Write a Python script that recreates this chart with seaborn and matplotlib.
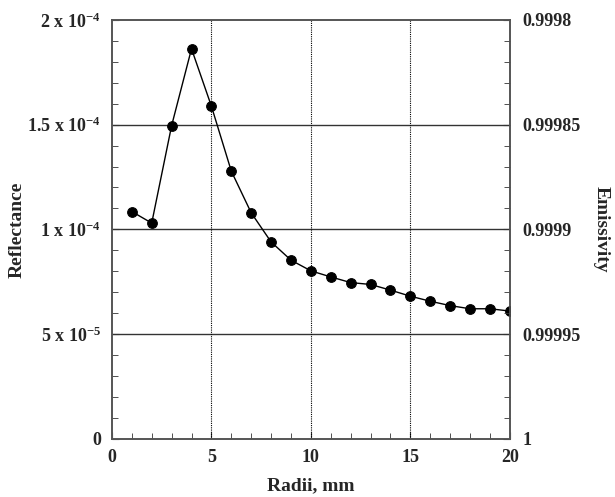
import numpy as np
import pandas as pd
import matplotlib
matplotlib.use('Agg')
import matplotlib.pyplot as plt
import seaborn as sns
from matplotlib.ticker import MultipleLocator, FixedLocator

radii = [1, 2, 3, 4, 5, 6, 7, 8, 9, 10, 11, 12, 13, 14, 15, 16, 17, 18, 19, 20]
reflectance = [1.085e-4, 1.030e-4, 1.495e-4, 1.862e-4, 1.588e-4, 1.278e-4, 1.079e-4,
               0.940e-4, 0.853e-4, 0.802e-4, 0.773e-4, 0.746e-4, 0.737e-4, 0.710e-4,
               0.681e-4, 0.657e-4, 0.636e-4, 0.621e-4, 0.621e-4, 0.610e-4]
left_ticks = [0, 5e-5, 1e-4, 1.5e-4, 2e-4]
left_labels = ['0', '5 x 10$^{-5}$', '1 x 10$^{-4}$', '1.5 x 10$^{-4}$', '2 x 10$^{-4}$']
right_ticks = [1.0, 0.99995, 0.9999, 0.99985, 0.9998]
right_labels = ['1', '0.99995', '0.9999', '0.99985', '0.9998']

df = pd.DataFrame({'Radii': radii, 'Reflectance': reflectance})

sns.set_style('ticks')
plt.rcParams['font.family'] = ['Liberation Serif', 'DejaVu Serif']
plt.rcParams['font.weight'] = 'bold'
plt.rcParams['mathtext.fontset'] = 'custom'
plt.rcParams['mathtext.rm'] = 'Liberation Serif:bold'
plt.rcParams['mathtext.it'] = 'Liberation Serif:bold'
plt.rcParams['mathtext.bf'] = 'Liberation Serif:bold'

fig = plt.figure(figsize=(6.15, 4.97), dpi=100)
ax = fig.add_axes([0.182, 0.117, 0.647, 0.843])

for y in left_ticks[1:-1]:
    ax.axhline(y, color='#333333', lw=1.0, zorder=1)
for x in [5, 10, 15]:
    ax.axvline(x, color='black', lw=0.8, ls=(0, (1, 1)), zorder=1)

sns.lineplot(data=df, x='Radii', y='Reflectance', ax=ax, color='black', lw=1,
             marker='o', markersize=7, markeredgecolor='black', zorder=3)

ax.set_xlim(0, 20)
ax.set_ylim(0, 2e-4)
ax.xaxis.set_major_locator(MultipleLocator(5))
ax.xaxis.set_minor_locator(MultipleLocator(1))
ax.yaxis.set_major_locator(FixedLocator(left_ticks))
ax.yaxis.set_minor_locator(MultipleLocator(1e-5))
ax.set_yticklabels(left_labels)
ax.tick_params(axis='both', which='both', direction='in', color='#333333', labelsize=13)
ax.tick_params(axis='y', pad=8)
ax.tick_params(axis='x', pad=7)
ax.tick_params(which='major', length=5)
ax.tick_params(which='minor', length=4)
ax.set_xlabel('Radii, mm', fontsize=14, fontweight='bold')
ax.set_ylabel('Reflectance', fontsize=14, fontweight='bold')
ax.xaxis.set_label_coords(0.5, -0.092)
ax.yaxis.set_label_coords(-0.218, 0.5)
for lab in ax.get_xticklabels() + ax.get_yticklabels():
    lab.set_fontweight('bold')

ax2 = ax.twinx()
ax2.set_ylim(1.0, 0.9998)
ax2.yaxis.set_major_locator(FixedLocator(right_ticks))
ax2.yaxis.set_minor_locator(MultipleLocator(1e-5))
ax2.set_yticklabels(right_labels)
ax2.tick_params(axis='y', which='both', direction='in', color='#333333', labelsize=13, pad=9)
ax2.tick_params(which='major', length=5)
ax2.tick_params(which='minor', length=4)
ax2.set_ylabel('Emissivity', fontsize=14, fontweight='bold', rotation=270)
ax2.yaxis.set_label_coords(1.25, 0.5)
for lab in ax2.get_yticklabels():
    lab.set_fontweight('bold')

for a in (ax, ax2):
    for s in a.spines.values():
        s.set_color('#555555')
        s.set_linewidth(1.2)

fig.savefig('out.png', dpi=100)
